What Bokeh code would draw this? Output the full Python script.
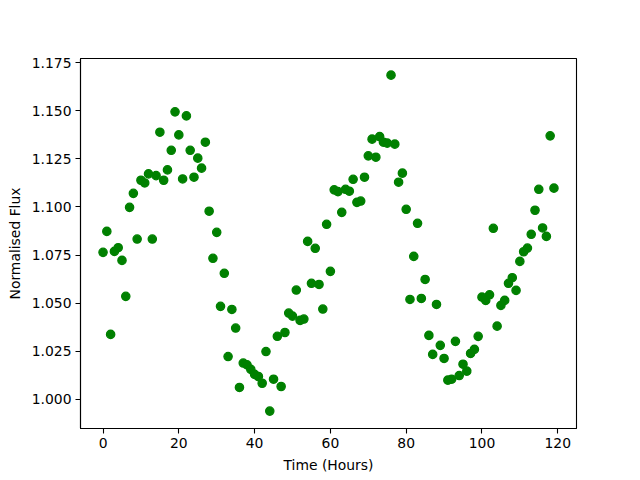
from bokeh.plotting import figure
from bokeh.models import FixedTicker, PrintfTickFormatter, Range1d
from bokeh.embed import file_html
from bokeh.resources import INLINE

time_hours = list(range(0, 120))

flux = [
    1.0764, 1.0873, 1.0337, 1.0769, 1.0788, 1.0722, 1.0535, 1.0998, 1.1071, 1.0833,
    1.1139, 1.1125, 1.1172, 1.0833, 1.1163, 1.1389, 1.1139, 1.1193, 1.1295, 1.1495,
    1.1375, 1.1146, 1.1474, 1.1295, 1.1155, 1.1254, 1.1202, 1.1337, 1.0978, 1.0733,
    1.0868, 1.0483, 1.0655, 1.0222, 1.0467, 1.0370, 1.0061, 1.0188, 1.0179, 1.0155,
    1.0129, 1.0118, 1.0083, 1.0248, 0.9938, 1.0104, 1.0327, 1.0066, 1.0347, 1.0448,
    1.0432, 1.0568, 1.0410, 1.0417, 1.0821, 1.0603, 1.0785, 1.0597, 1.0469, 1.0910,
    1.0665, 1.1089, 1.1080, 1.0972, 1.1092, 1.1082, 1.1144, 1.1024, 1.1031, 1.1155,
    1.1266, 1.1353, 1.1259, 1.1366, 1.1337, 1.1332, 1.1686, 1.1327, 1.1129, 1.1176,
    1.0988, 1.0519, 1.0743, 1.0915, 1.0524, 1.0623, 1.0332, 1.0233, 1.0493, 1.0280,
    1.0212, 1.0099, 1.0104, 1.0301, 1.0123, 1.0182, 1.0146, 1.0238, 1.0259, 1.0327,
    1.0531, 1.0514, 1.0543, 1.0889, 1.0380, 1.0488, 1.0514, 1.0603, 1.0632, 1.0566,
    1.0717, 1.0767, 1.0786, 1.0858, 1.0983, 1.1092, 1.0891, 1.0847, 1.1370, 1.1098,
]

x_ticks = [0, 20, 40, 60, 80, 100, 120]
y_ticks = [1.000, 1.025, 1.050, 1.075, 1.100, 1.125, 1.150, 1.175]

p = figure(
    frame_width=496, frame_height=370,
    min_border_left=80, min_border_right=50,
    min_border_top=58, min_border_bottom=44,
    output_backend="svg", toolbar_location=None,
    x_range=Range1d(-5.95, 124.95), y_range=Range1d(0.98475, 1.17725),
)

p.scatter(time_hours, flux, size=8.3, fill_color="green", line_color="green",
          line_width=1.3, marker="circle")

p.xgrid.visible = False
p.ygrid.visible = False
p.outline_line_color = "black"
p.outline_line_width = 1.1
p.outline_line_alpha = 1.0
p.background_fill_color = "white"
p.border_fill_color = "white"

p.xaxis.ticker = FixedTicker(ticks=x_ticks)
p.yaxis.ticker = FixedTicker(ticks=y_ticks)
p.yaxis.formatter = PrintfTickFormatter(format="%.3f")
p.xaxis.axis_label = "Time (Hours)"
p.yaxis.axis_label = "Normalised Flux"

for ax in (p.xaxis, p.yaxis):
    ax.axis_label_text_font = "DejaVu Sans"
    ax.axis_label_text_font_size = "13.9px"
    ax.axis_label_text_font_style = "normal"
    ax.axis_label_text_color = "black"
    ax.major_label_text_font = "DejaVu Sans"
    ax.major_label_text_font_size = "13.9px"
    ax.major_label_text_color = "black"
    ax.major_tick_out = 5
    ax.major_tick_in = 0
    ax.minor_tick_out = 0
    ax.minor_tick_in = 0
    ax.major_tick_line_width = 1.1
    ax.major_tick_line_color = "black"
    ax.axis_line_width = 1.1
    ax.axis_line_color = "black"
    ax.major_label_standoff = 4
    ax.axis_label_standoff = 6

open("out.html", "w").write(file_html(p, INLINE))
